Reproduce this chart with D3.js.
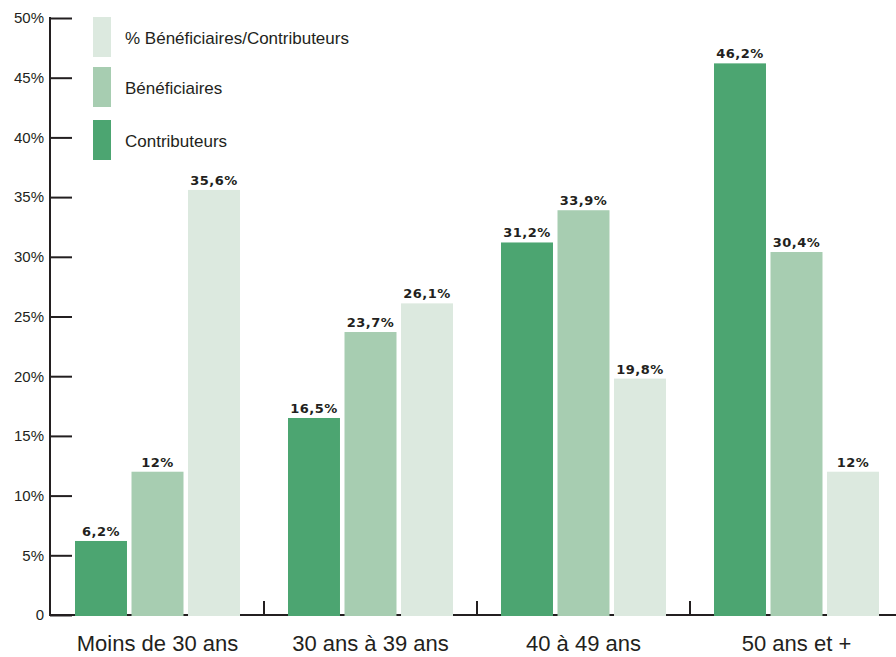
<!DOCTYPE html>
<html>
<head>
<meta charset="utf-8">
<script src="https://cdn.jsdelivr.net/npm/d3@7"></script>
<style>
  body { margin: 0; background: #fff; }
  text { fill: #231f20; }
</style>
</head>
<body>
<div id="chart"></div>
<script>
// data
let groups = ["Moins de 30 ans", "30 ans à 39 ans", "40 à 49 ans", "50 ans et +"];
let series = ["Contributeurs", "Bénéficiaires", "% Bénéficiaires/Contributeurs"];
let contributeurs = [6.2, 16.5, 31.2, 46.2];
let beneficiaires = [12, 23.7, 33.9, 30.4];
let ratio = [35.6, 26.1, 19.8, 12];
let yTicks = [0, 5, 10, 15, 20, 25, 30, 35, 40, 45, 50];

let colors = ["#4ca571", "#a7cdb1", "#dce9df"];
let values = [contributeurs, beneficiaires, ratio];

let width = 896, height = 657;
let x0 = 51, y0 = 615, yTop = 18;

let svg = d3.select("#chart").append("svg")
    .attr("width", width)
    .attr("height", height)
    .style("font-family", "'Liberation Sans', Arial, sans-serif");

// scales
let x = d3.scaleBand()
    .domain(groups)
    .range([x0, 903])
    .padding(0);

let xInner = d3.scaleBand()
    .domain(series)
    .range([24, 189])
    .paddingInner(0.08);

let y = d3.scaleLinear()
    .domain([0, 50])
    .range([y0, yTop]);

let color = d3.scaleOrdinal()
    .domain(series)
    .range(colors);

// flatten
let data = [];
groups.forEach(function(g, i) {
  series.forEach(function(s, j) {
    data.push({group: g, serie: s, value: values[j][i]});
  });
});

// x baseline with separator ticks
svg.append("line")
    .attr("x1", 49).attr("x2", width)
    .attr("y1", y0).attr("y2", y0)
    .attr("stroke", "#231f20").attr("stroke-width", 2);

svg.selectAll(".sep")
    .data(groups.slice(1))
  .enter().append("line")
    .attr("class", "sep")
    .attr("x1", function(d) { return x(d); })
    .attr("x2", function(d) { return x(d); })
    .attr("y1", y0).attr("y2", y0 - 14)
    .attr("stroke", "#231f20").attr("stroke-width", 2);

// bars
svg.selectAll(".bar")
    .data(data)
  .enter().append("rect")
    .attr("class", "bar")
    .attr("x", function(d) { return x(d.group) + xInner(d.serie); })
    .attr("y", function(d) { return y(d.value); })
    .attr("width", xInner.bandwidth())
    .attr("height", function(d) { return y0 + 1 - y(d.value); })
    .style("fill", function(d) { return color(d.serie); });

// value labels
svg.selectAll(".val")
    .data(data)
  .enter().append("text")
    .attr("class", "val")
    .attr("x", function(d) { return x(d.group) + xInner(d.serie) + xInner.bandwidth() / 2; })
    .attr("y", function(d) { return y(d.value) - 5; })
    .attr("text-anchor", "middle")
    .style("font-family", "'DejaVu Sans', sans-serif")
    .style("font-weight", "bold")
    .style("font-size", "13px")
    .style("letter-spacing", "0.5px")
    .text(function(d) { return String(d.value).replace(".", ",") + "%"; });

// y axis
let yAxis = svg.append("g")
    .attr("transform", "translate(50,0)")
    .call(d3.axisRight(y)
      .tickValues(yTicks)
      .tickSize(22)
      .tickFormat(function(d) { return d === 0 ? "0" : d + "%"; }));

yAxis.select(".domain").remove();
yAxis.selectAll(".tick line")
    .attr("stroke", "#231f20").attr("stroke-width", 2);
yAxis.selectAll(".tick text")
    .attr("x", -6)
    .attr("text-anchor", "end")
    .style("font-size", "15px")
    .style("fill", "#231f20");

svg.append("line")
    .attr("x1", 50).attr("x2", 50)
    .attr("y1", yTop - 1).attr("y2", y0 + 1)
    .attr("stroke", "#231f20").attr("stroke-width", 2);

// category labels
svg.selectAll(".cat")
    .data(groups)
  .enter().append("text")
    .attr("class", "cat")
    .attr("x", function(d) { return x(d) + xInner.range()[0] + (xInner.range()[1] - xInner.range()[0]) / 2; })
    .attr("y", 651)
    .attr("text-anchor", "middle")
    .style("font-size", "22px")
    .text(function(d) { return d; });

// legend (top item is the last series)
let legendOrder = series.slice().reverse();
let legend = svg.selectAll(".legend")
    .data(legendOrder)
  .enter().append("g")
    .attr("class", "legend")
    .attr("transform", function(d, i) { return "translate(93," + [17, 67, 120][i] + ")"; });

legend.append("rect")
    .attr("width", 18)
    .attr("height", 40)
    .style("fill", function(d) { return color(d); });

legend.append("text")
    .attr("x", 32)
    .attr("y", 27)
    .style("font-size", "17px")
    .text(function(d) { return d; });
</script>
</body>
</html>
